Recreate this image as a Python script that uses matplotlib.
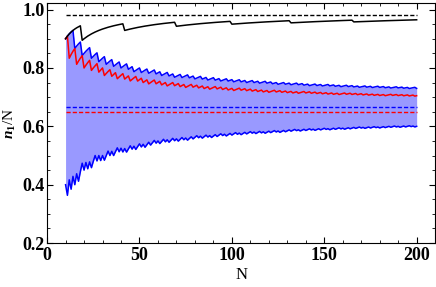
import matplotlib
matplotlib.use("Agg")
import matplotlib.pyplot as plt
from matplotlib.ticker import MultipleLocator

plt.rcParams["font.family"] = "Liberation Serif"
plt.rcParams["font.weight"] = "bold"
plt.rcParams["mathtext.fontset"] = "custom"
plt.rcParams["mathtext.rm"] = "Liberation Serif:bold"
plt.rcParams["mathtext.it"] = "Liberation Serif:bold:italic"

N = list(range(10, 201))

# n1 counts, one per N (divided by N for plotting)
# blue band edges (p = 2/3), red upper line (p = 0.65), black lower line (p = 0.98)
blue_lo = [
    4, 4, 5, 5, 6, 6, 7, 7, 8, 9,
    9, 10, 10, 11, 11, 12, 13, 13, 14, 14,
    15, 15, 16, 17, 17, 18, 18, 19, 20, 20,
    21, 21, 22, 22, 23, 24, 24, 25, 25, 26,
    27, 27, 28, 28, 29, 30, 30, 31, 32, 32,
    33, 33, 34, 35, 35, 36, 36, 37, 38, 38,
    39, 39, 40, 41, 41, 42, 42, 43, 44, 44,
    45, 46, 46, 47, 47, 48, 49, 49, 50, 50,
    51, 52, 52, 53, 54, 54, 55, 55, 56, 57,
    57, 58, 59, 59, 60, 60, 61, 62, 62, 63,
    64, 64, 65, 65, 66, 67, 67, 68, 68, 69,
    70, 70, 71, 72, 72, 73, 73, 74, 75, 75,
    76, 77, 77, 78, 79, 79, 80, 80, 81, 82,
    82, 83, 84, 84, 85, 85, 86, 87, 87, 88,
    89, 89, 90, 90, 91, 92, 92, 93, 94, 94,
    95, 95, 96, 97, 97, 98, 99, 99, 100, 101,
    101, 102, 102, 103, 104, 104, 105, 106, 106, 107,
    107, 108, 109, 109, 110, 111, 111, 112, 113, 113,
    114, 114, 115, 116, 116, 117, 118, 118, 119, 119,
    120,
]
blue_hi = [
    9, 10, 11, 12, 13, 13, 14, 15, 16, 16,
    17, 18, 19, 20, 20, 21, 22, 23, 23, 24,
    25, 26, 26, 27, 28, 29, 29, 30, 31, 32,
    32, 33, 34, 35, 35, 36, 37, 37, 38, 39,
    40, 40, 41, 42, 43, 43, 44, 45, 46, 46,
    47, 48, 48, 49, 50, 51, 51, 52, 53, 53,
    54, 55, 56, 56, 57, 58, 59, 59, 60, 61,
    61, 62, 63, 64, 64, 65, 66, 66, 67, 68,
    69, 69, 70, 71, 71, 72, 73, 74, 74, 75,
    76, 76, 77, 78, 79, 79, 80, 81, 81, 82,
    83, 84, 84, 85, 86, 86, 87, 88, 89, 89,
    90, 91, 91, 92, 93, 93, 94, 95, 96, 96,
    97, 98, 98, 99, 100, 101, 101, 102, 103, 103,
    104, 105, 105, 106, 107, 108, 108, 109, 110, 110,
    111, 112, 113, 113, 114, 115, 115, 116, 117, 117,
    118, 119, 120, 120, 121, 122, 122, 123, 124, 124,
    125, 126, 127, 127, 128, 129, 129, 130, 131, 132,
    132, 133, 134, 134, 135, 136, 136, 137, 138, 139,
    139, 140, 141, 141, 142, 143, 143, 144, 145, 146,
    146,
]
red_hi = [
    9, 10, 10, 11, 12, 13, 13, 14, 15, 16,
    16, 17, 18, 19, 19, 20, 21, 22, 22, 23,
    24, 24, 25, 26, 27, 27, 28, 29, 29, 30,
    31, 32, 32, 33, 34, 34, 35, 36, 37, 37,
    38, 39, 39, 40, 41, 41, 42, 43, 44, 44,
    45, 46, 46, 47, 48, 48, 49, 50, 51, 51,
    52, 53, 53, 54, 55, 55, 56, 57, 58, 58,
    59, 60, 60, 61, 62, 62, 63, 64, 64, 65,
    66, 67, 67, 68, 69, 69, 70, 71, 71, 72,
    73, 73, 74, 75, 76, 76, 77, 78, 78, 79,
    80, 80, 81, 82, 82, 83, 84, 84, 85, 86,
    86, 87, 88, 89, 89, 90, 91, 91, 92, 93,
    93, 94, 95, 95, 96, 97, 97, 98, 99, 100,
    100, 101, 102, 102, 103, 104, 104, 105, 106, 106,
    107, 108, 108, 109, 110, 110, 111, 112, 112, 113,
    114, 115, 115, 116, 117, 117, 118, 119, 119, 120,
    121, 121, 122, 123, 123, 124, 125, 125, 126, 127,
    127, 128, 129, 129, 130, 131, 132, 132, 133, 134,
    134, 135, 136, 136, 137, 138, 138, 139, 140, 140,
    141,
]
black_lo = [
    9, 10, 11, 12, 13, 14, 15, 16, 17, 17,
    18, 19, 20, 21, 22, 23, 24, 25, 26, 27,
    28, 29, 30, 31, 32, 33, 34, 35, 36, 37,
    38, 39, 39, 40, 41, 42, 43, 44, 45, 46,
    47, 48, 49, 50, 51, 52, 53, 54, 55, 56,
    57, 58, 59, 60, 61, 62, 63, 64, 65, 66,
    66, 67, 68, 69, 70, 71, 72, 73, 74, 75,
    76, 77, 78, 79, 80, 81, 82, 83, 84, 85,
    86, 87, 88, 89, 90, 91, 92, 93, 94, 95,
    95, 96, 97, 98, 99, 100, 101, 102, 103, 104,
    105, 106, 107, 108, 109, 110, 111, 112, 113, 114,
    115, 116, 117, 118, 119, 120, 121, 122, 123, 124,
    125, 126, 126, 127, 128, 129, 130, 131, 132, 133,
    134, 135, 136, 137, 138, 139, 140, 141, 142, 143,
    144, 145, 146, 147, 148, 149, 150, 151, 152, 153,
    154, 155, 156, 157, 158, 159, 159, 160, 161, 162,
    163, 164, 165, 166, 167, 168, 169, 170, 171, 172,
    173, 174, 175, 176, 177, 178, 179, 180, 181, 182,
    183, 184, 185, 186, 187, 188, 189, 190, 191, 192,
    193,
]

# dashed reference levels: black, blue, red
p_black = 0.98
p_blue = 2 / 3
p_red = 0.65

fig = plt.figure(figsize=(4.36, 2.87), dpi=100)
ax = fig.add_axes([0.108, 0.153, 0.89, 0.836])

lo = [k / n for k, n in zip(blue_lo, N)]
hi = [k / n for k, n in zip(blue_hi, N)]
ax.fill_between(N, lo, hi, color="#9999ff", lw=0)
ax.plot(N, lo, color="blue", lw=1.1)
ax.plot(N, hi, color="blue", lw=1.1)
ax.plot(N, [k / n for k, n in zip(red_hi, N)], color="red", lw=1.1)
ax.plot(N, [k / n for k, n in zip(black_lo, N)], color="black", lw=1.1)

ends = [N[0], N[-1]]
ax.plot(ends, [p_black] * 2, "--", color="black", lw=1, dashes=(3, 1.5))
ax.plot(ends, [p_blue] * 2, "--", color="blue", lw=1, dashes=(3, 1.5))
ax.plot(ends, [p_red] * 2, "--", color="red", lw=1, dashes=(3, 1.5))

ax.set_xlim(0, 210)
ax.set_ylim(0.2, 1.022)
ax.xaxis.set_major_locator(MultipleLocator(50))
ax.xaxis.set_minor_locator(MultipleLocator(10))
ax.yaxis.set_major_locator(MultipleLocator(0.2))
ax.yaxis.set_minor_locator(MultipleLocator(0.05))
ax.tick_params(which="both", direction="in", top=True, right=True, labelsize=13)
ax.tick_params(axis="x", pad=3)
ax.tick_params(axis="y", pad=2)
ax.tick_params(which="major", length=4)
ax.tick_params(which="minor", length=2)
ax.set_xlabel("N", fontsize=12, labelpad=2)
ax.set_ylabel(r"$n_1$/N", fontsize=11, labelpad=3)

fig.savefig("out.png", dpi=100)
